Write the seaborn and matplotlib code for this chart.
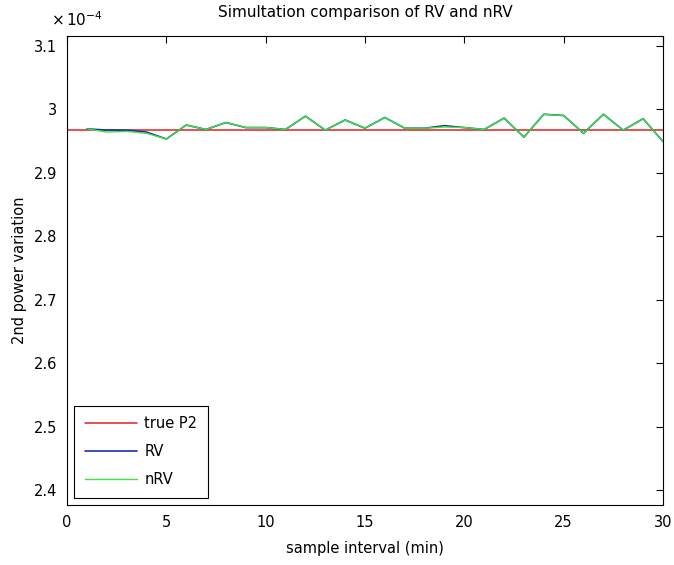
import numpy as np
import pandas as pd
import matplotlib
matplotlib.use("Agg")
import matplotlib.pyplot as plt
from matplotlib.ticker import FormatStrFormatter
import seaborn as sns

# =========================
# DATA (values in units of 1e-4)
# =========================
interval = list(range(1, 31))
true_p2 = 2.967
rv = [2.969, 2.967, 2.967, 2.964, 2.953, 2.975, 2.968, 2.979, 2.971, 2.971,
      2.968, 2.989, 2.967, 2.983, 2.970, 2.987, 2.970, 2.970, 2.974, 2.971,
      2.968, 2.986, 2.956, 2.992, 2.990, 2.962, 2.992, 2.967, 2.985, 2.949]
nrv = [2.969, 2.964, 2.965, 2.962, 2.953, 2.975, 2.968, 2.979, 2.971, 2.971,
       2.968, 2.989, 2.967, 2.983, 2.970, 2.987, 2.970, 2.970, 2.972, 2.971,
       2.968, 2.986, 2.956, 2.992, 2.990, 2.962, 2.992, 2.967, 2.985, 2.949]

# =========================
# PLOT
# =========================
sns.set_style("white")
plt.rcParams["font.family"] = ["DejaVu Sans"]
plt.rcParams["text.color"] = "black"
plt.rcParams["axes.labelcolor"] = "black"
FS = 10.5

fig = plt.figure(figsize=(6.74, 5.65), dpi=100)
ax = fig.add_axes([67 / 674, 60 / 565, 596 / 674, 469 / 565])

sns.lineplot(x=[0, 30], y=[true_p2, true_p2], color="#e02020", lw=1.1,
             label="true P2", ax=ax)
sns.lineplot(x=interval, y=rv, color="#1830b0", lw=1.2, label="RV", ax=ax)
sns.lineplot(x=interval, y=nrv, color="#3ae83a", lw=1.0, label="nRV", ax=ax)

ax.set_xlim(0, 30)
ax.set_ylim(2.3764, 3.1153)
ax.set_xticks(range(0, 31, 5))
ax.set_yticks(np.arange(2.4, 3.11, 0.1))
ax.yaxis.set_major_formatter(FormatStrFormatter("%g"))
ax.tick_params(direction="in", length=5, width=0.8, top=True, right=True,
               labelsize=FS, colors="black", pad=7)
for s in ax.spines.values():
    s.set_color("black")
    s.set_linewidth(0.8)

ax.set_title("Simultation comparison of RV and nRV", fontsize=FS + 0.5,
             pad=14, color="black")
ax.set_xlabel("sample interval (min)", fontsize=FS, labelpad=8)
ax.set_ylabel("2nd power variation", fontsize=FS, labelpad=5)
ax.text(-16 / 596, 1.015, r"$\times\,10^{-4}$", transform=ax.transAxes,
        fontsize=FS + 0.5, ha="left", va="bottom")

leg = ax.legend(loc="lower left", fancybox=False, framealpha=1,
                edgecolor="black", fontsize=FS, handlelength=3.6,
                handletextpad=0.5, borderaxespad=0.5, labelspacing=0.9,
                borderpad=0.7)
leg.get_frame().set_linewidth(0.8)

plt.savefig("out.png", dpi=100)
plt.close()
